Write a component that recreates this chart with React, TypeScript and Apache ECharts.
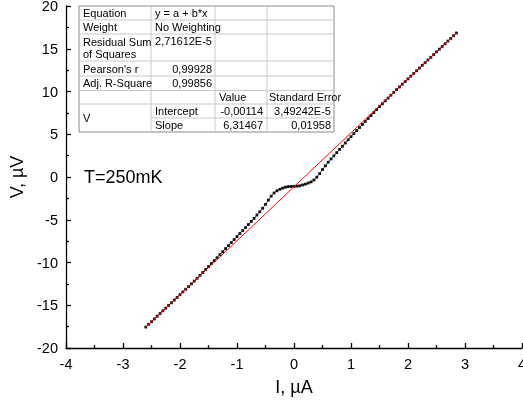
import React, { useEffect, useRef } from "react";
import * as echarts from "echarts";

// Measured current (µA)
const currentUA: number[] = [
  -2.6, -2.55, -2.5, -2.45, -2.4, -2.35, -2.3, -2.25, -2.2, -2.15, -2.1, -2.05, -2.0, -1.95, -1.9, -1.85, -1.8, -1.75,
  -1.7, -1.65, -1.6, -1.55, -1.5, -1.45, -1.4, -1.35, -1.3, -1.25, -1.2, -1.15, -1.1, -1.05, -1.0, -0.95, -0.9, -0.85,
  -0.8, -0.75, -0.7, -0.65, -0.6, -0.55, -0.5, -0.45, -0.4, -0.35, -0.3, -0.25, -0.2, -0.15, -0.1, -0.05, 0.0,
  0.05, 0.1, 0.15, 0.2, 0.25, 0.3, 0.35, 0.4, 0.45, 0.5, 0.55, 0.6, 0.65, 0.7, 0.75, 0.8, 0.85, 0.9, 0.95, 1.0,
  1.05, 1.1, 1.15, 1.2, 1.25, 1.3, 1.35, 1.4, 1.45, 1.5, 1.55, 1.6, 1.65, 1.7, 1.75, 1.8, 1.85, 1.9, 1.95, 2.0,
  2.05, 2.1, 2.15, 2.2, 2.25, 2.3, 2.35, 2.4, 2.45, 2.5, 2.55, 2.6, 2.65, 2.7, 2.75, 2.8, 2.85,
];

// Measured voltage (µV)
const voltageUV: number[] = [
  -17.55, -17.23, -16.92, -16.6, -16.28, -15.97, -15.65, -15.34, -15.02, -14.71, -14.39, -14.08, -13.76, -13.44, -13.13, -12.81, -12.5, -12.18,
  -11.85, -11.51, -11.17, -10.82, -10.48, -10.13, -9.78, -9.44, -9.08, -8.73, -8.37, -8.03, -7.67, -7.32, -6.97, -6.61, -6.27, -5.91,
  -5.56, -5.2, -4.84, -4.45, -4.07, -3.66, -3.2, -2.7, -2.24, -1.87, -1.61, -1.44, -1.3, -1.19, -1.12, -1.11, -1.09,
  -1.07, -1.03, -0.93, -0.83, -0.71, -0.57, -0.35, -0.02, 0.4, 0.87, 1.31, 1.73, 2.11, 2.48, 2.85, 3.23, 3.6, 3.98, 4.35, 4.72,
  5.08, 5.43, 5.79, 6.14, 6.5, 6.84, 7.19, 7.53, 7.88, 8.23, 8.56, 8.9, 9.23, 9.57, 9.9, 10.22, 10.53, 10.85, 11.16, 11.48,
  11.8, 12.11, 12.43, 12.74, 13.06, 13.37, 13.69, 14.0, 14.32, 14.64, 14.95, 15.27, 15.58, 15.9, 16.21, 16.53, 16.84,
];

// Linear fit end points
const fitI: number[] = [-2.6, 2.85];
const fitV: number[] = [-17.55, 16.84];

// Fit table contents
const tableRowLabels: string[] = ["Equation", "Weight", "Residual Sum\nof Squares", "Pearson's r", "Adj. R-Square"];
const tableRowValues: string[] = ["y = a + b*x", "No Weighting", "2,71612E-5", "0,99928", "0,99856"];
const paramHeaders: string[] = ["Value", "Standard Error"];
const paramNames: string[] = ["Intercept", "Slope"];
const paramValues: string[] = ["-0,00114", "6,31467"];
const paramErrors: string[] = ["3,49242E-5", "0,01958"];
const dependentName = "V";
const annotation = "T=250mK";

const FONT = "'Liberation Sans', Arial, sans-serif";

export default function App() {
  const ref = useRef<HTMLDivElement>(null);

  useEffect(() => {
    if (!ref.current) return;
    const chart = echarts.init(ref.current, undefined, { renderer: "svg" });

    // table geometry
    const cols = [79, 151, 215, 267, 334];
    const rows = [6, 20, 34, 61, 76, 90.5, 104, 118, 132];
    const fs = 11;
    const gridColor = "#c8c8c8";
    const els: any[] = [];
    els.push({
      type: "rect",
      shape: { x: cols[0], y: rows[0], width: cols[4] - cols[0], height: rows[8] - rows[0] },
      style: { fill: "#fff", stroke: "#8a8a8a", lineWidth: 1 },
      z: 10,
    });
    for (let i = 1; i < rows.length - 1; i++) {
      const x1 = i === 7 ? cols[1] : cols[0];
      els.push({
        type: "line",
        shape: { x1, y1: rows[i], x2: cols[4], y2: rows[i] },
        style: { stroke: gridColor, lineWidth: 1 },
        z: 11,
      });
    }
    for (let j = 1; j < cols.length - 1; j++) {
      els.push({
        type: "line",
        shape: { x1: cols[j], y1: rows[0], x2: cols[j], y2: rows[8] },
        style: { stroke: gridColor, lineWidth: 1 },
        z: 11,
      });
    }
    const txt = (s: string, x: number, y: number, align: string) => ({
      type: "text",
      x,
      y,
      z: 12,
      style: { text: s, fill: "#000", font: `${fs}px ${FONT}`, align, verticalAlign: "middle", lineHeight: 12 },
    });
    tableRowLabels.forEach((s, i) => {
      const yc = (rows[i] + rows[i + 1]) / 2;
      els.push(txt(s, cols[0] + 4, yc, "left"));
      const v = tableRowValues[i];
      if (i < 2) els.push(txt(v, cols[1] + 4, yc, "left"));
      else els.push(txt(v, cols[2] - 3, i === 2 ? rows[2] + 7 : yc, "right"));
    });
    const yh = (rows[5] + rows[6]) / 2;
    els.push(txt(paramHeaders[0], cols[2] + 4, yh, "left"));
    els.push(txt(paramHeaders[1], cols[3] + 2, yh, "left"));
    els.push(txt(dependentName, cols[0] + 4, (rows[6] + rows[8]) / 2, "left"));
    paramNames.forEach((s, i) => {
      const yc = (rows[6 + i] + rows[7 + i]) / 2;
      els.push(txt(s, cols[1] + 4, yc, "left"));
      els.push(txt(paramValues[i], cols[3] - 4, yc, "right"));
      els.push(txt(paramErrors[i], cols[4] - 3, yc, "right"));
    });
    els.push({
      type: "text",
      x: 84,
      y: 177,
      z: 12,
      style: { text: annotation, fill: "#000", font: `18px ${FONT}`, align: "left", verticalAlign: "middle" },
    });

    const axisCommon = {
      type: "value" as const,
      nameLocation: "middle" as const,
      nameTextStyle: { fontSize: 18, color: "#000", fontFamily: FONT },
      axisLine: { show: true, onZero: false, lineStyle: { color: "#000", width: 1.3 } },
      axisTick: { show: true, inside: true, length: 5, lineStyle: { color: "#000", width: 1.3 } },
      minorTick: { show: true, splitNumber: 2, length: 3, lineStyle: { color: "#000", width: 1.3 } },
      splitLine: { show: false },
      axisLabel: { color: "#000", fontSize: 14.5, fontFamily: FONT, margin: 8 },
    };

    chart.setOption({
      animation: false,
      textStyle: { fontFamily: FONT },
      grid: { left: 66, right: 1, top: 6, bottom: 60, containLabel: false, outerBoundsMode: "none" },
      xAxis: {
        ...axisCommon,
        min: -4,
        max: 4,
        interval: 1,
        name: "I, µA",
        nameGap: 30,
        axisLabel: { ...axisCommon.axisLabel, showMaxLabel: true },
      },
      yAxis: {
        ...axisCommon,
        min: -20,
        max: 20,
        interval: 5,
        name: "V, µV",
        nameGap: 23,
        nameRotate: 90,
        axisLabel: { ...axisCommon.axisLabel, lineHeight: 12 },
      },
      series: [
        {
          type: "line",
          data: currentUA.map((x, i) => [x, voltageUV[i]]),
          symbol: "rect",
          symbolSize: 2.8,
          itemStyle: { color: "#111" },
          lineStyle: { color: "#333", width: 0.8 },
          z: 2,
        },
        {
          type: "line",
          data: fitI.map((x, i) => [x, fitV[i]]),
          showSymbol: false,
          symbol: "none",
          lineStyle: { color: "#ff0000", width: 1 },
          z: 3,
        },
      ],
      graphic: els,
    });
    return () => chart.dispose();
  }, []);

  return <div ref={ref} style={{ position: "fixed", left: 0, top: 0, width: 523, height: 408 }} />;
}
